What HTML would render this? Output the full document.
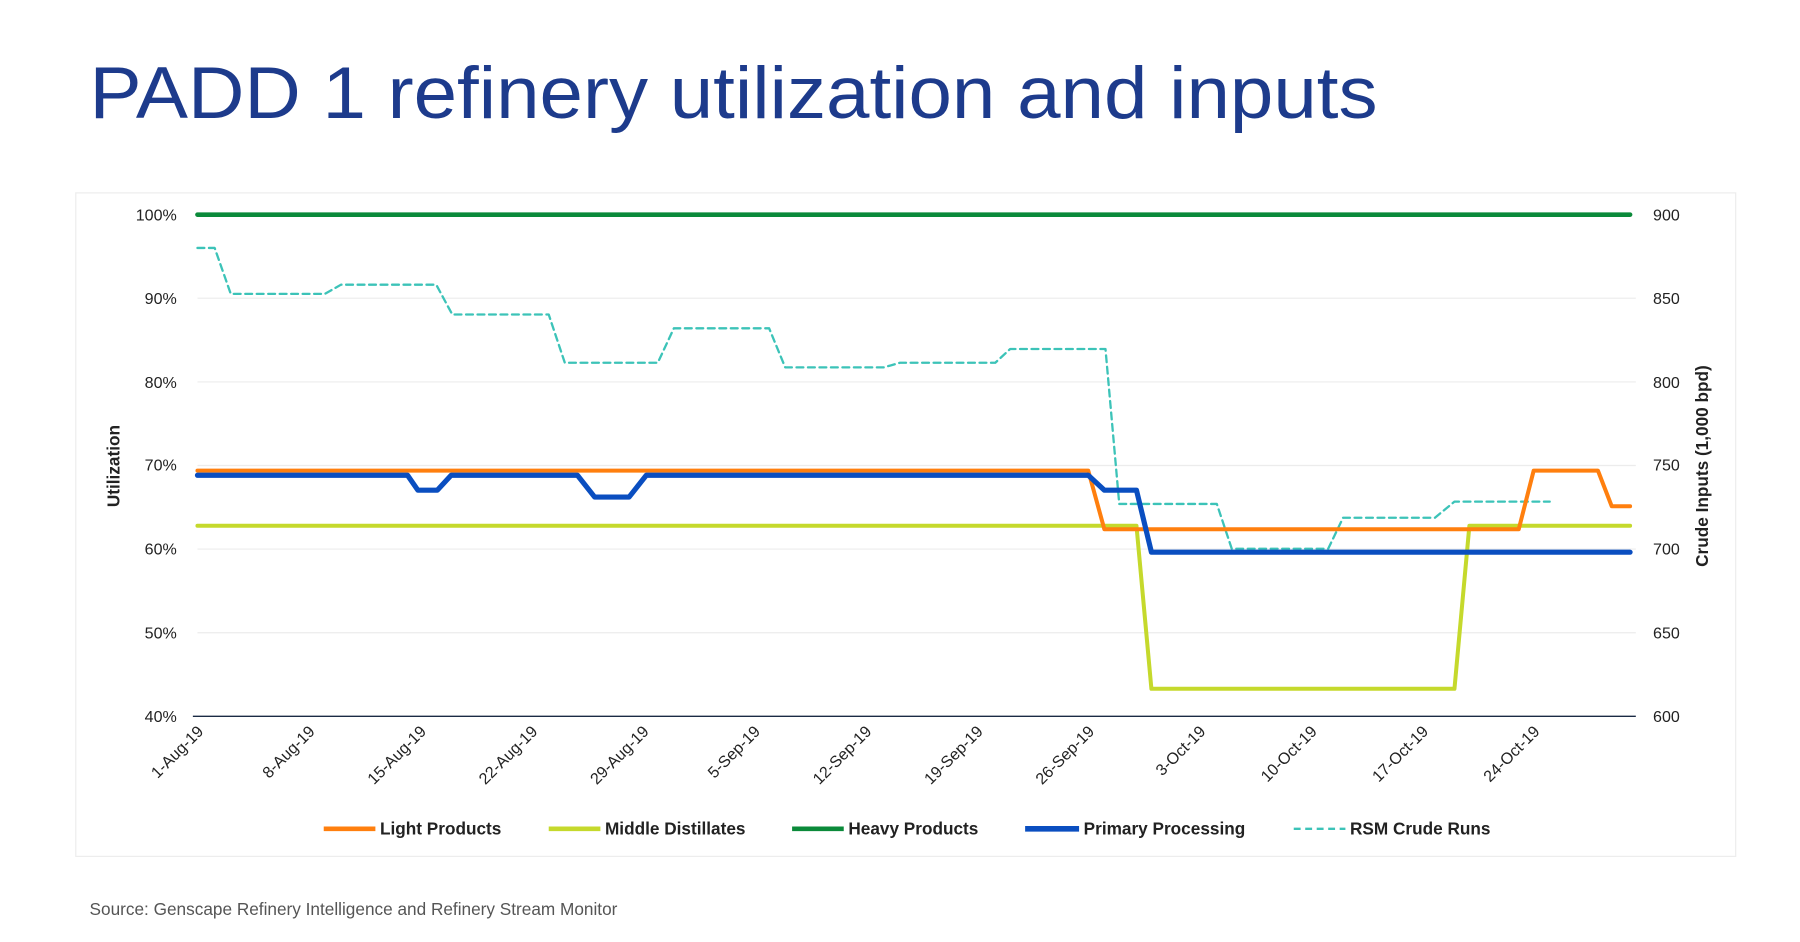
<!DOCTYPE html>
<html><head><meta charset="utf-8"><style>
html,body{margin:0;padding:0;background:#fff;}
svg{display:block;font-family:"Liberation Sans",Arial,sans-serif;}
</style></head><body>
<svg width="1800" height="942" viewBox="0 0 1568 820.6" xmlns="http://www.w3.org/2000/svg">
<text x="78" y="103" font-size="64" fill="#1d3b8c" textLength="1122" lengthAdjust="spacingAndGlyphs">PADD 1 refinery utilization and inputs</text>
<rect x="66" y="168" width="1446" height="578" fill="#fff" stroke="#ececec" stroke-width="1"/>
<g stroke="#ececec" stroke-width="1">
<line x1="172" x2="1425" y1="259.8" y2="259.8"/><line x1="172" x2="1425" y1="332.7" y2="332.7"/>
<line x1="172" x2="1425" y1="405.5" y2="405.5"/><line x1="172" x2="1425" y1="478.3" y2="478.3"/>
<line x1="172" x2="1425" y1="551.2" y2="551.2"/>
</g>
<line x1="168" x2="1425" y1="624" y2="624" stroke="#1a2a44" stroke-width="1.3"/>
<g font-size="14" fill="#222" text-anchor="end">
<text x="154" y="192">100%</text><text x="154" y="265">90%</text><text x="154" y="338">80%</text>
<text x="154" y="410">70%</text><text x="154" y="483">60%</text><text x="154" y="556">50%</text><text x="154" y="629">40%</text>
</g>
<g font-size="14" fill="#222">
<text x="1440" y="192">900</text><text x="1440" y="265">850</text><text x="1440" y="338">800</text>
<text x="1440" y="410">750</text><text x="1440" y="483">700</text><text x="1440" y="556">650</text><text x="1440" y="629">600</text>
</g>
<text transform="translate(104,406) rotate(-90)" text-anchor="middle" font-size="15" font-weight="bold" fill="#222">Utilization</text>
<text transform="translate(1488,406) rotate(-90)" text-anchor="middle" font-size="15" font-weight="bold" fill="#222">Crude Inputs (1,000 bpd)</text>
<g font-size="14" fill="#222" text-anchor="end">
<text transform="translate(178,638) rotate(-45)">1-Aug-19</text>
<text transform="translate(275,638) rotate(-45)">8-Aug-19</text>
<text transform="translate(372,638) rotate(-45)">15-Aug-19</text>
<text transform="translate(469,638) rotate(-45)">22-Aug-19</text>
<text transform="translate(566,638) rotate(-45)">29-Aug-19</text>
<text transform="translate(663,638) rotate(-45)">5-Sep-19</text>
<text transform="translate(760,638) rotate(-45)">12-Sep-19</text>
<text transform="translate(857,638) rotate(-45)">19-Sep-19</text>
<text transform="translate(954,638) rotate(-45)">26-Sep-19</text>
<text transform="translate(1051,638) rotate(-45)">3-Oct-19</text>
<text transform="translate(1148,638) rotate(-45)">10-Oct-19</text>
<text transform="translate(1245,638) rotate(-45)">17-Oct-19</text>
<text transform="translate(1342,638) rotate(-45)">24-Oct-19</text>
</g>
<g fill="none" stroke-linejoin="round" stroke-linecap="round">
<polyline stroke="#0b8a3a" stroke-width="4" points="172,187 1420,187"/>
<polyline stroke="#3cc3b8" stroke-width="2" stroke-dasharray="6,4" points="172,216 187,216 201,256 283,256 297,248 380,248 394,274 478,274 492,316 573,316 587,286 670,286 684,320 770,320 784,316 867,316 880,304 963,304 975,439 1060,439 1073,478 1157,478 1170,451 1250,451 1267,437 1350,437"/>
<polyline stroke="#c5d92c" stroke-width="3.5" points="172,458 990,458 1003,600 1267,600 1280,458 1420,458"/>
<polyline stroke="#ff7f0e" stroke-width="3.5" points="172,410 948,410 962,461 1323,461 1336,410 1392,410 1404,441 1420,441"/>
<polyline stroke="#0a4ec0" stroke-width="4.5" points="172,414 355,414 364,427 381,427 393,414 503,414 518,433 548,433 563,414 948,414 962,427 990,427 1003,481 1420,481"/>
</g>
<g font-size="15" font-weight="bold" fill="#222">
<line x1="282" x2="327" y1="722" y2="722" stroke="#ff7f0e" stroke-width="4"/><text x="331" y="727">Light Products</text>
<line x1="478" x2="523" y1="722" y2="722" stroke="#c5d92c" stroke-width="4"/><text x="527" y="727">Middle Distillates</text>
<line x1="690" x2="735" y1="722" y2="722" stroke="#0b8a3a" stroke-width="4"/><text x="739" y="727">Heavy Products</text>
<line x1="893" x2="940" y1="722" y2="722" stroke="#0a4ec0" stroke-width="5"/><text x="944" y="727">Primary Processing</text>
<line x1="1127" x2="1172" y1="722" y2="722" stroke="#3cc3b8" stroke-width="2" stroke-dasharray="6,4"/><text x="1176" y="727">RSM Crude Runs</text>
</g>
<text x="78" y="797" font-size="15" fill="#555">Source: Genscape Refinery Intelligence and Refinery Stream Monitor</text>
</svg>
</body></html>
